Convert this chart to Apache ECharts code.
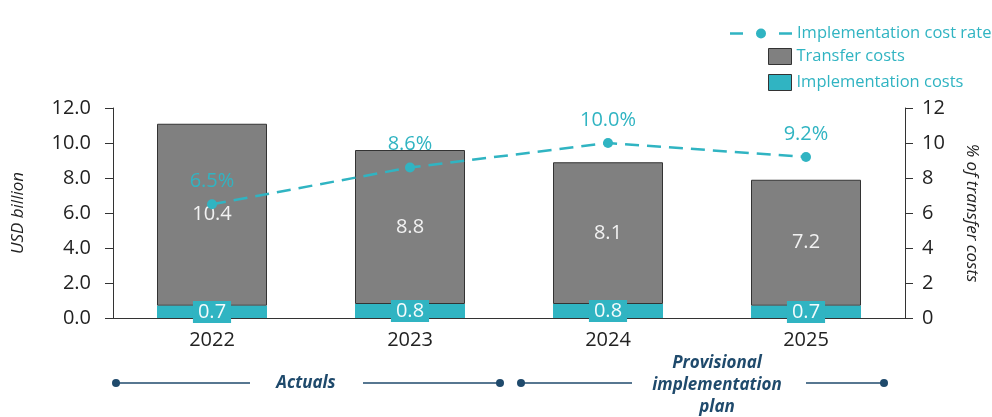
<!DOCTYPE html>
<html>
<head>
<meta charset="utf-8">
<script src="https://cdn.jsdelivr.net/npm/echarts@6/dist/echarts.min.js"></script>
<style>
  html, body { margin: 0; padding: 0; background: #ffffff; }
  #chart { width: 992px; height: 417px; }
</style>
</head>
<body>
<div id="chart"></div>
<script>
// Years shown on the category axis
const categories = ['2022', '2023', '2024', '2025'];
// USD billion
const implementationCosts = [0.7, 0.8, 0.8, 0.7];
const transferCosts = [10.4, 8.8, 8.1, 7.2];
// % of transfer costs
const implementationCostRate = [6.5, 8.6, 10.0, 9.2];
// Period brackets under the axis
const periodLabels = ['Actuals', 'Provisional\nimplementation\nplan'];

const TEAL = '#30b4c2';
const GREY = '#808080';
const NAVY = '#1f4a6c';
const INK = '#222222';
const FONT = '"Open Sans", "DejaVu Sans", sans-serif';

const chart = echarts.init(document.getElementById('chart'), null, { renderer: 'canvas' });

const option = {
  animation: false,
  backgroundColor: '#ffffff',
  textStyle: { fontFamily: FONT },
  grid: { left: 113, right: 87, top: 108, bottom: 99, containLabel: false },
  legend: [
    {
      data: ['Implementation cost rate'],
      left: 725, top: 20,
      itemWidth: 62, itemHeight: 12,
      icon: 'path://M0 4.7H13V7.3H0Z M26 6A5 5 0 1 0 36 6A5 5 0 1 0 26 6Z M49 4.7H62V7.3H49Z',
      itemStyle: { color: TEAL, borderWidth: 0 },
      textStyle: { color: TEAL, fontSize: 16.5, fontFamily: FONT }
    },
    {
      data: ['Transfer costs', 'Implementation costs'],
      orient: 'vertical',
      left: 763, top: 43,
      itemWidth: 23, itemHeight: 16, itemGap: 9,
      icon: 'rect',
      itemStyle: { borderColor: '#333333', borderWidth: 1 },
      textStyle: { color: TEAL, fontSize: 16.5, fontFamily: FONT }
    }
  ],
  xAxis: {
    type: 'category',
    data: categories,
    axisLine: { lineStyle: { color: '#333333', width: 1 } },
    axisTick: { show: false },
    axisLabel: { color: INK, fontSize: 20, margin: 12, fontFamily: FONT }
  },
  yAxis: [
    {
      type: 'value',
      min: 0, max: 12, interval: 2,
      name: 'USD billion',
      nameLocation: 'middle',
      nameGap: 86,
      nameTextStyle: { color: INK, fontSize: 17, fontStyle: 'italic', fontFamily: FONT },
      axisLine: { show: true, lineStyle: { color: '#333333', width: 1 } },
      axisTick: { show: true, length: 8, lineStyle: { color: '#333333' } },
      splitLine: { show: false },
      axisLabel: {
        color: INK, fontSize: 20, margin: 22, fontFamily: FONT,
        formatter: v => v.toFixed(1)
      }
    },
    {
      type: 'value',
      position: 'right',
      min: 0, max: 12, interval: 2,
      name: '% of transfer costs',
      nameLocation: 'middle',
      nameGap: 58,
      nameRotate: -90,
      nameTextStyle: { color: INK, fontSize: 17, fontStyle: 'italic', fontFamily: FONT },
      axisLine: { show: true, lineStyle: { color: '#333333', width: 1 } },
      axisTick: { show: true, length: 8, lineStyle: { color: '#333333' } },
      splitLine: { show: false },
      axisLabel: { color: INK, fontSize: 20, margin: 17, fontFamily: FONT }
    }
  ],
  series: [
    {
      name: 'Implementation costs',
      type: 'bar',
      stack: 'costs',
      barWidth: 110,
      data: implementationCosts,
      itemStyle: { color: TEAL },
      z: 2,
      label: {
        show: true,
        position: 'inside',
        color: '#f4fbfc',
        fontSize: 20,
        fontFamily: FONT,
        backgroundColor: TEAL,
        padding: [0, 5, 0, 5],
        lineHeight: 22,
        formatter: p => p.value.toFixed(1)
      }
    },
    {
      name: 'Transfer costs',
      type: 'bar',
      stack: 'costs',
      barWidth: 110,
      data: transferCosts,
      itemStyle: { color: GREY, borderColor: '#333333', borderWidth: 1 },
      z: 1,
      label: {
        show: true,
        position: 'inside',
        color: '#f2f2f2',
        fontSize: 20,
        fontFamily: FONT,
        formatter: p => p.value.toFixed(1)
      }
    },
    {
      name: 'Implementation cost rate',
      type: 'line',
      yAxisIndex: 1,
      data: implementationCostRate,
      symbol: 'circle',
      symbolSize: 10,
      z: 3,
      itemStyle: { color: TEAL },
      lineStyle: { color: TEAL, width: 2.5, type: [14, 8] },
      label: {
        show: true,
        position: 'top',
        distance: 8,
        color: TEAL,
        fontSize: 20,
        fontFamily: FONT,
        formatter: p => p.value.toFixed(1) + '%'
      }
    }
  ]
};

chart.setOption(option);

// Period brackets drawn under the category labels, placed from the axis scale
const gridRect = chart.getModel().getComponent('grid').coordinateSystem.getRect();
const band = gridRect.width / categories.length;
const cx = i => chart.convertToPixel({ xAxisIndex: 0 }, categories[i]);
const lineY = 383;

function bracket(x0, x1, gapL, gapR, text, textX, textY) {
  return [
    { type: 'line', shape: { x1: x0, y1: lineY, x2: gapL, y2: lineY },
      style: { stroke: NAVY, lineWidth: 1.5 } },
    { type: 'line', shape: { x1: gapR, y1: lineY, x2: x1, y2: lineY },
      style: { stroke: NAVY, lineWidth: 1.5 } },
    { type: 'circle', shape: { cx: x0, cy: lineY, r: 4 }, style: { fill: NAVY } },
    { type: 'circle', shape: { cx: x1, cy: lineY, r: 4 }, style: { fill: NAVY } },
    { type: 'text', x: textX, y: textY,
      style: {
        text: text, fill: NAVY, align: 'center', verticalAlign: 'middle',
        font: 'italic bold 17px ' + FONT, lineHeight: 22
      } }
  ];
}

const a0 = cx(0) - band / 2 + 3;
const a1 = cx(1) + band / 2 - 9;
const p0 = cx(2) - band / 2 + 12;
const p1 = cx(3) + band / 2 - 21;

chart.setOption({
  graphic: [
    ...bracket(a0, a1, a0 + 134, a0 + 247, periodLabels[0], (a0 + a1) / 2 - 2, lineY),
    ...bracket(p0, p1, p0 + 111, p0 + 285, periodLabels[1], p0 + 196, lineY + 2)
  ]
});
</script>
</body>
</html>
